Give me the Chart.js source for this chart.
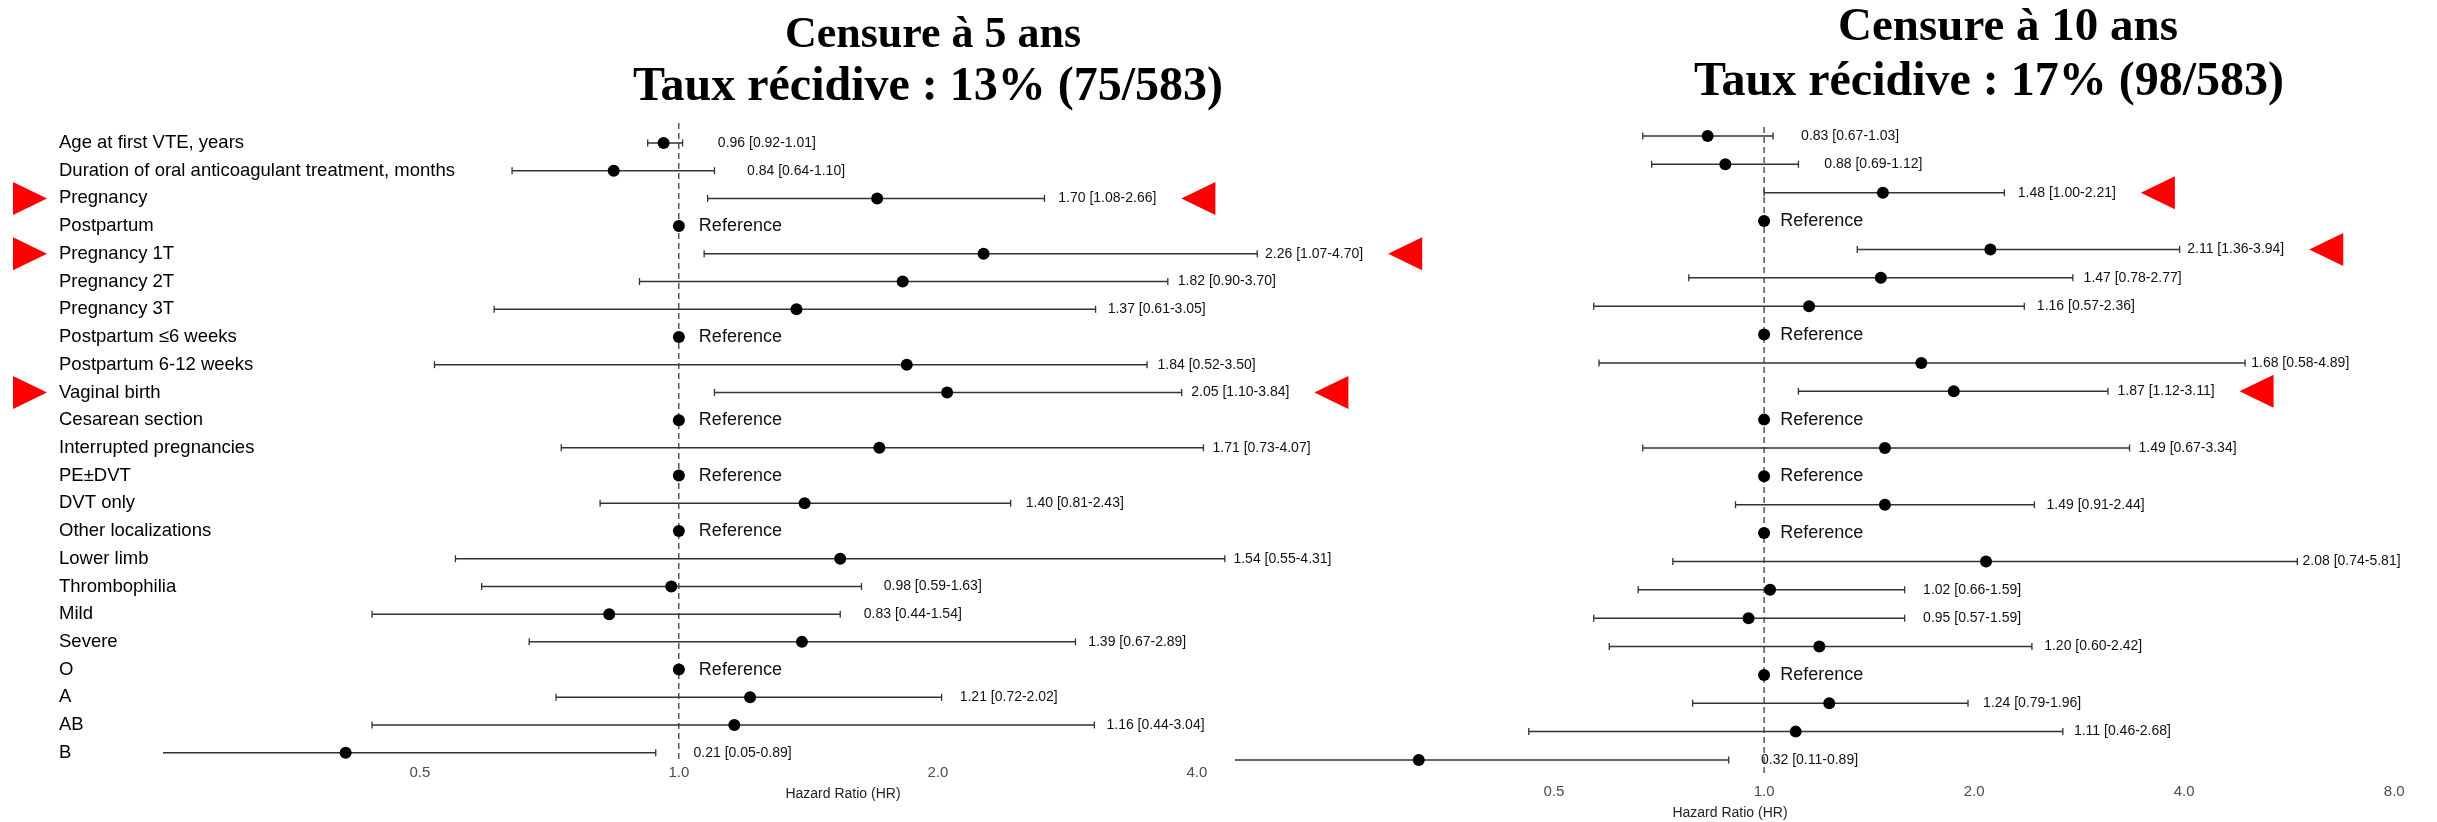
<!DOCTYPE html>
<html>
<head>
<meta charset="utf-8">
<script src="https://cdn.jsdelivr.net/npm/chart.js@4.4.1/dist/chart.umd.min.js"></script>
<style>
  html, body { margin: 0; padding: 0; background: #fff; width: 2437px; height: 822px; overflow: hidden; }
  #w1 { position: absolute; left: 0; top: 0; width: 1450px; height: 822px; }
  #w2 { position: absolute; left: 1200px; top: 0; width: 1237px; height: 822px; }
  canvas { display: block; }
</style>
</head>
<body>
<div id="w1"><canvas id="c1" width="1450" height="822"></canvas></div>
<div id="w2"><canvas id="c2" width="1237" height="822"></canvas></div>
<script>
// ---------- DATA ----------
const rowLabels = [
  'Age at first VTE, years',
  'Duration of oral anticoagulant treatment, months',
  'Pregnancy', 'Postpartum',
  'Pregnancy 1T', 'Pregnancy 2T', 'Pregnancy 3T',
  'Postpartum \u22646 weeks', 'Postpartum 6-12 weeks',
  'Vaginal birth', 'Cesarean section',
  'Interrupted pregnancies',
  'PE\u00B1DVT', 'DVT only',
  'Other localizations', 'Lower limb',
  'Thrombophilia', 'Mild', 'Severe',
  'O', 'A', 'AB', 'B'
];
const highlighted = ['Pregnancy', 'Pregnancy 1T', 'Vaginal birth'];

// Censure à 5 ans (null = reference category)
const hr5 = [0.96, 0.84, 1.70, null, 2.26, 1.82, 1.37, null, 1.84, 2.05, null, 1.71, null, 1.40, null, 1.54, 0.98, 0.83, 1.39, null, 1.21, 1.16, 0.41];
const lo5 = [0.92, 0.64, 1.08, null, 1.07, 0.90, 0.61, null, 0.52, 1.10, null, 0.73, null, 0.81, null, 0.55, 0.59, 0.44, 0.67, null, 0.72, 0.44, 0.05];
const hi5 = [1.01, 1.10, 2.66, null, 4.70, 3.70, 3.05, null, 3.50, 3.84, null, 4.07, null, 2.43, null, 4.31, 1.63, 1.54, 2.89, null, 2.02, 3.04, 0.94];
const txt5 = ['0.96 [0.92-1.01]', '0.84 [0.64-1.10]', '1.70 [1.08-2.66]', 'Reference', '2.26 [1.07-4.70]', '1.82 [0.90-3.70]', '1.37 [0.61-3.05]', 'Reference', '1.84 [0.52-3.50]', '2.05 [1.10-3.84]', 'Reference', '1.71 [0.73-4.07]', 'Reference', '1.40 [0.81-2.43]', 'Reference', '1.54 [0.55-4.31]', '0.98 [0.59-1.63]', '0.83 [0.44-1.54]', '1.39 [0.67-2.89]', 'Reference', '1.21 [0.72-2.02]', '1.16 [0.44-3.04]', '0.21 [0.05-0.89]'];

// Censure à 10 ans
const hr10 = [0.83, 0.88, 1.48, null, 2.11, 1.47, 1.16, null, 1.68, 1.87, null, 1.49, null, 1.49, null, 2.08, 1.02, 0.95, 1.20, null, 1.24, 1.11, 0.32];
const lo10 = [0.67, 0.69, 1.00, null, 1.36, 0.78, 0.57, null, 0.58, 1.12, null, 0.67, null, 0.91, null, 0.74, 0.66, 0.57, 0.60, null, 0.79, 0.46, 0.11];
const hi10 = [1.03, 1.12, 2.21, null, 3.94, 2.77, 2.36, null, 4.89, 3.11, null, 3.34, null, 2.44, null, 5.81, 1.59, 1.59, 2.42, null, 1.96, 2.68, 0.89];
const txt10 = ['0.83 [0.67-1.03]', '0.88 [0.69-1.12]', '1.48 [1.00-2.21]', 'Reference', '2.11 [1.36-3.94]', '1.47 [0.78-2.77]', '1.16 [0.57-2.36]', 'Reference', '1.68 [0.58-4.89]', '1.87 [1.12-3.11]', 'Reference', '1.49 [0.67-3.34]', 'Reference', '1.49 [0.91-2.44]', 'Reference', '2.08 [0.74-5.81]', '1.02 [0.66-1.59]', '0.95 [0.57-1.59]', '1.20 [0.60-2.42]', 'Reference', '1.24 [0.79-1.96]', '1.11 [0.46-2.68]', '0.32 [0.11-0.89]'];

const xTicks5 = [0.5, 1, 2, 4];
const xTicks10 = [0.5, 1, 2, 4, 8];
const titles5 = ['Censure \u00E0 5 ans', 'Taux r\u00E9cidive : 13% (75/583)'];
const titles10 = ['Censure \u00E0 10 ans', 'Taux r\u00E9cidive : 17% (98/583)'];
const axisTitle = 'Hazard Ratio (HR)';
const refValue = 1;

// ---------- STYLE ----------
const SANS = "'Liberation Sans', Arial, Helvetica, sans-serif";
const SERIF = "'Liberation Serif', 'Times New Roman', serif";
const TEXT_NUDGE = 0.1;      // label placed at upper CI + nudge (data units)
const REF_TEXT_X = 1.055;    // "Reference" text position (data units)
const TRI_W = 34, TRI_H = 33, TRI_GAP = 25;

function buildDatasets(hr, lo, hi, yMin, yMax) {
  const points = hr.map((v, i) => ({ x: v === null ? refValue : v, y: i }));
  const whisk = [];
  const caps = [];
  lo.forEach((l, i) => {
    if (l === null) return;
    whisk.push({ x: l, y: i }, { x: hi[i], y: i }, { x: NaN, y: NaN });
    caps.push({ x: l, y: i }, { x: hi[i], y: i });
  });
  return [
    { data: points, pointRadius: 6, pointHoverRadius: 6, backgroundColor: '#000', borderWidth: 0, showLine: false, clip: 0 },
    { data: caps, pointStyle: 'line', rotation: 90, pointRadius: 3.5, pointHoverRadius: 3.5, borderColor: '#333', borderWidth: 1.3, showLine: false, clip: 0 },
    { data: whisk, showLine: true, spanGaps: false, pointRadius: 0, pointHoverRadius: 0, borderColor: '#333', borderWidth: 1.5, clip: 0 },
    { data: [{ x: refValue, y: yMin }, { x: refValue, y: yMax }], showLine: true, pointRadius: 0, borderColor: '#000', borderWidth: 1, borderDash: [6, 4], clip: 0 }
  ];
}

function forestPlugin(cfg) {
  return {
    id: 'forest_' + cfg.name,
    afterDraw(chart) {
      const { ctx } = chart;
      const x = chart.scales.x, y = chart.scales.y;
      ctx.save();
      ctx.textBaseline = 'middle';
      ctx.textAlign = 'left';
      cfg.txt.forEach((t, i) => {
        const py = y.getPixelForValue(i);
        let px;
        if (cfg.hr[i] === null) {
          px = x.getPixelForValue(REF_TEXT_X);
          ctx.font = '18px ' + SANS;
        } else {
          px = x.getPixelForValue(cfg.hi[i] + TEXT_NUDGE);
          ctx.font = '14px ' + SANS;
        }
        ctx.fillStyle = '#111';
        ctx.fillText(t, px, py);
        if (highlighted.includes(rowLabels[i])) {
          const w = ctx.measureText(t).width;
          const x0 = px + w + TRI_GAP;
          ctx.fillStyle = '#FF0000';
          ctx.beginPath();
          ctx.moveTo(x0, py);
          ctx.lineTo(x0 + TRI_W, py - TRI_H / 2);
          ctx.lineTo(x0 + TRI_W, py + TRI_H / 2);
          ctx.closePath();
          ctx.fill();
          if (cfg.leftMarks) {
            const lx = 13;
            ctx.beginPath();
            ctx.moveTo(lx, py - TRI_H / 2);
            ctx.lineTo(lx + TRI_W, py);
            ctx.lineTo(lx, py + TRI_H / 2);
            ctx.closePath();
            ctx.fill();
          }
        }
      });
      // titles
      ctx.fillStyle = '#000';
      ctx.textAlign = 'center';
      ctx.textBaseline = 'alphabetic';
      cfg.titles.forEach(tl => {
        ctx.font = 'bold ' + tl.size + 'px ' + SERIF;
        ctx.fillText(tl.text, tl.cx, tl.base);
      });
      // axis title
      ctx.font = '14px ' + SANS;
      ctx.fillStyle = '#222';
      ctx.textBaseline = 'middle';
      ctx.fillText(axisTitle, cfg.axisTitle.cx, cfg.axisTitle.cy);
      ctx.restore();
    }
  };
}

function makeChart(canvasId, cfg) {
  return new Chart(document.getElementById(canvasId), {
    type: 'scatter',
    data: { datasets: buildDatasets(cfg.hr, cfg.lo, cfg.hi, cfg.yMin, cfg.yMax) },
    options: {
      responsive: false,
      animation: false,
      devicePixelRatio: 1,
      events: [],
      layout: { padding: cfg.padding },
      plugins: { legend: { display: false }, tooltip: { enabled: false }, title: { display: false } },
      scales: {
        x: {
          type: 'logarithmic',
          bounds: 'data',
          min: cfg.xMin, max: cfg.xMax,
          grid: { display: false, drawTicks: false },
          border: { display: false },
          afterBuildTicks: (axis) => { axis.ticks = cfg.xTicks.map(v => ({ value: v })); },
          afterFit: (axis) => { axis.height = cfg.xAxisH; },
          ticks: {
            autoSkip: false, maxRotation: 0,
            padding: cfg.xTickPad,
            color: '#4d4d4d',
            font: { family: SANS, size: 15 },
            callback: (v) => Number(v).toFixed(1)
          }
        },
        y: {
          type: 'linear',
          reverse: true,
          bounds: 'data',
          min: cfg.yMin, max: cfg.yMax,
          display: cfg.showLabels,
          grid: { display: false, drawTicks: false },
          border: { display: false },
          afterBuildTicks: (axis) => { axis.ticks = rowLabels.map((_, i) => ({ value: i })); },
          afterFit: (axis) => { axis.width = cfg.yAxisW; },
          ticks: {
            autoSkip: false,
            mirror: true,
            crossAlign: 'near',
            padding: -cfg.yAxisW,
            color: '#000',
            font: { family: SANS, size: 18.5 },
            callback: (v) => rowLabels[v]
          }
        }
      }
    },
    plugins: [forestPlugin(cfg)]
  });
}

makeChart('c1', {
  name: 'five',
  hr: hr5, lo: lo5, hi: hi5, txt: txt5,
  xTicks: xTicks5, xMin: 0.2515, xMax: 5.27,
  yMin: -0.72, yMax: 22.37,
  padding: { left: 59, right: 150, top: 123, bottom: 0 },
  yAxisW: 104, xAxisH: 59, xTickPad: 1,
  showLabels: true, leftMarks: true,
  titles: [
    { text: titles5[0], cx: 933, base: 46.5, size: 44 },
    { text: titles5[1], cx: 928, base: 100, size: 48 }
  ],
  axisTitle: { cx: 843, cy: 794 }
});

makeChart('c2', {
  name: 'ten',
  hr: hr10, lo: lo10, hi: hi10, txt: txt10,
  xTicks: xTicks10, xMin: 0.1745, xMax: 8.153,
  yMin: -0.317, yMax: 22.6,
  padding: { left: 35, right: 37, top: 127, bottom: 0 },
  yAxisW: 0, xAxisH: 45, xTickPad: 5.7,
  showLabels: false, leftMarks: false,
  titles: [
    { text: titles10[0], cx: 808, base: 40, size: 47 },
    { text: titles10[1], cx: 789, base: 95, size: 48 }
  ],
  axisTitle: { cx: 530, cy: 813 }
});
</script>
</body>
</html>
